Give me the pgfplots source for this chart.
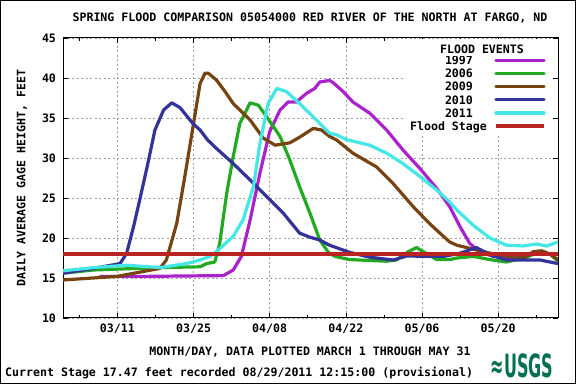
\documentclass[border=0pt]{standalone}
\usepackage{pgfplots}
\pgfplotsset{compat=1.18}
\usepackage{fontspec}
\setmainfont{DejaVu Sans Mono}
\newfontfamily\logofont{DejaVu Sans}
\newcommand\f{\fontsize{11.6bp}{13bp}\selectfont\bfseries}
\definecolor{c97}{RGB}{170,34,204}
\definecolor{c06}{RGB}{34,170,34}
\definecolor{c09}{RGB}{119,68,17}
\definecolor{c10}{RGB}{51,51,153}
\definecolor{c11}{RGB}{68,230,230}
\definecolor{cfs}{RGB}{187,34,34}
\definecolor{usgs}{RGB}{0,112,80}
\begin{document}
\begin{tikzpicture}
\useasboundingbox (0,0) rectangle (576bp,384bp);
\fill[white] (0,0) rectangle (576bp,384bp);
\begin{axis}[
 at={(63bp,66bp)}, anchor=south west,
 scale only axis, width=495bp, height=280bp,
 xmin=0, xmax=91, ymin=10, ymax=45,
 xtick={10,24,38,52,66,80},
 xticklabels={03/11,03/25,04/08,04/22,05/06,05/20},
 minor xtick={3,17,31,45,59,73,87},
 ytick={10,15,...,45},
 tick align=inside,
 major tick length=5bp, minor tick length=3bp,
 xmajorgrids, ymajorgrids,
 major grid style={dash pattern=on 2bp off 2.5bp, gray!75, line width=0.6bp},
 axis line style={line width=1bp},
 tick style={black, line width=0.7bp},
 ticklabel style={font=\f},
 /pgf/number format/assume math mode=true,
 yticklabel style={xshift=-3.5bp},
 xticklabel style={yshift=-2bp},
 legend plot pos=right,
 legend cell align=right,
 legend image code/.code={\draw[#1] (0bp,0bp) -- (48bp,0bp);},
 legend style={draw=none, fill=white, font=\f,
   at={(rel axis cs:0.98788,0.95804)}, anchor=north east,
   inner xsep=6bp, inner ysep=6bp,
   nodes={inner sep=0bp, text height=8.5bp, text depth=0bp},
   row sep=4.7bp, column sep=7.3bp},
 every axis plot/.append style={line width=3.2bp, line join=round, line cap=round},
]
\addplot[c97] coordinates {
(6.8,15.2) (15,15.2) (22,15.25) (29.5,15.3) (31.3,16) (32.8,17.7) (34.4,22.25) (36.2,28.1) (38,33.3) (39.9,36) (41.4,37) (42.9,37) (44.8,38.1) (46.3,38.7) (47.2,39.5) (49,39.7) (49.7,39.4) (51.5,38.3) (53.3,37) (56.4,35.6) (59.5,33.5) (62.5,31) (65.6,28.7) (68.7,26.2) (71.1,23.9) (73,21.4) (74.8,19.3) (76.6,18.3) (79.1,17.7) (82.8,17.5) (84.6,17.7)
};
\addlegendentry{1997\phantom{00}}
\addplot[c06] coordinates {
(0,15.6) (5.6,16) (17.8,16.3) (25.2,16.4) (26.4,16.8) (27.9,17) (28.8,19.3) (30.1,25.6) (31.3,30.2) (32.5,34.3) (34.4,36.9) (35.9,36.6) (37.4,35.2) (39.9,32.7) (41.7,29.75) (43.5,26.4) (45.4,23.1) (47.2,19.75) (48.8,18.2) (50,17.7) (52.7,17.3) (59.5,17.1) (61.3,17.25) (63.5,18.3) (65,18.8) (66.2,18.3) (68.7,17.3) (71.1,17.3) (72.4,17.5) (75.4,17.7) (78.5,17.3) (81.5,17.0) (85.2,17.6) (87.7,18.3) (89.5,18) (91,17.1)
};
\addlegendentry{2006\phantom{00}}
\addplot[c09] coordinates {
(0,14.75) (9.9,15.2) (17.8,16.2) (19,17.25) (20.9,21.8) (22.4,27.7) (23.9,33.9) (25.2,39.3) (26.1,40.6) (26.7,40.6) (28.2,39.75) (29.8,38.3) (31.3,36.8) (34.4,34.75) (36.8,32.5) (39,31.6) (41.7,31.9) (43.5,32.6) (46,33.7) (47.5,33.5) (49,32.7) (50.3,32.25) (53.3,30.6) (57.6,28.9) (60.7,26.8) (64.4,23.9) (67.4,21.8) (69.3,20.6) (71.1,19.5) (72.4,19.1) (75.4,18.6) (78.5,18.1) (83.4,17.5) (85,17.6) (86.5,18.3) (88,18.4) (89.5,18) (91,17.3)
};
\addlegendentry{2009\phantom{00}}
\addplot[c10] coordinates {
(0,15.6) (5.6,16.2) (10.5,16.8) (11.7,18.1) (13,21.5) (14.1,24.75) (15.5,29) (16.9,33.5) (18.5,36) (20,36.9) (21.5,36.3) (23.9,34.3) (25.2,33.5) (26.6,32.25) (28.2,31.2) (31.3,29.3) (34.4,27.25) (37.4,25.2) (40.5,23.1) (43.5,20.6) (45.4,20.1) (47.2,19.75) (49,19.1) (52.7,18.2) (56.4,17.6) (60.7,17.25) (63.2,17.75) (67.4,17.7) (70,17.7) (73,18.1) (76,18.8) (78.5,17.9) (81.5,17.25) (87.7,17.25) (91,16.8)
};
\addlegendentry{2010\phantom{00}}
\addplot[c11] coordinates {
(0,15.9) (5.6,16.3) (11.7,16.6) (17.8,16.3) (22.7,16.8) (25.2,17.25) (27,17.7) (28.2,18.3) (31.3,20.2) (33.1,22.25) (35,26.4) (36.2,31.8) (37.7,36.8) (39.3,38.7) (41.1,38.3) (43.5,36.8) (46.6,34.75) (49,33.1) (50.3,32.9) (52.1,32.3) (56.4,31.6) (59.5,30.6) (62.5,29.3) (65.6,27.7) (68.7,26) (71.1,24.5) (72.4,23.5) (75.4,21.6) (78.5,20) (81.5,19.1) (84.6,19) (87,19.25) (88.9,19) (91,19.5)
};
\addlegendentry{2011\phantom{00}}
\addplot[cfs, line width=3.6bp, line cap=butt] coordinates {(0,18) (91,18)};
\addlegendentry{Flood Stage}
\end{axis}
\node[fill=white, anchor=base, inner sep=0bp, minimum width=140bp, text height=13.75bp, text depth=2.75bp, font=\f] at (482bp,330.75bp) {FLOOD EVENTS};
\node[font=\f] at (310bp,366bp) {SPRING FLOOD COMPARISON 05054000 RED RIVER OF THE NORTH AT FARGO, ND};
\node[font=\f, rotate=90] at (22bp,206bp) {DAILY AVERAGE GAGE HEIGHT, FEET};
\node[font=\f] at (310bp,32bp) {MONTH/DAY, DATA PLOTTED MARCH 1 THROUGH MAY 31};
\node[font=\f, anchor=west, inner sep=0bp] at (5bp,11bp) {Current Stage 17.47 feet recorded 08/29/2011 12:15:00 (provisional)};
\node[text=usgs, inner sep=0bp] at (522bp,18bp) {\scalebox{0.5}[1]{\logofont\fontsize{32bp}{32bp}\selectfont\bfseries ≈USGS}};
\draw[black, line width=1bp] (0.5bp,0.5bp) rectangle (575.5bp,383.5bp);
\end{tikzpicture}
\end{document}
